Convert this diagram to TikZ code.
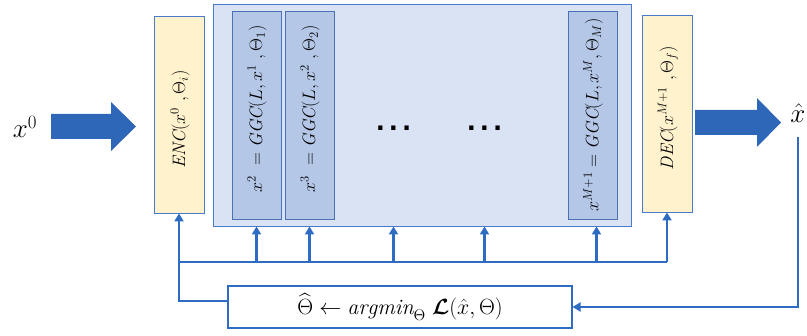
\RequirePackage{fix-cm}
\documentclass[tikz,border=0pt]{standalone}
\usepackage{amsmath}
\usepackage{bm}
\usepackage{fontspec}
\newfontfamily\dotsfont{DejaVu Sans}
\usetikzlibrary{arrows.meta}
\definecolor{arrowblue}{HTML}{2E66B8}
\definecolor{linkblue}{HTML}{2E6CC4}
\definecolor{boxedge}{HTML}{4A7BCB}
\definecolor{ggcedge}{HTML}{4A70B5}
\definecolor{outerfill}{HTML}{DAE3F3}
\definecolor{ggcfill}{HTML}{B4C7E7}
\definecolor{encfill}{HTML}{FFF2CC}
\tikzset{
  codebox/.style={draw=boxedge, line width=0.9pt, fill=encfill, inner sep=0pt},
  outerbox/.style={draw=boxedge, line width=0.9pt, fill=outerfill, inner sep=0pt},
  ggcbox/.style={draw=ggcedge, line width=0.9pt, fill=ggcfill, inner sep=0pt},
  lossbox/.style={draw=linkblue, line width=1.1pt, fill=white, inner sep=0pt},
  vlabel/.style={rotate=90, inner sep=0pt, font=\fontsize{18}{20}\selectfont},
  conn/.style={draw=linkblue, line width=2.6pt, -{Triangle[width=9pt,length=8pt]}},
  plain/.style={draw=linkblue, line width=2.6pt},
  bigarrow/.style={fill=arrowblue, draw=none},
  dots/.style={font=\fontsize{24}{26}\dotsfont\bfseries, inner sep=0pt, anchor=base},
  mathlbl/.style={font=\fontsize{27}{30}\selectfont, inner sep=0pt}
}
\begin{document}
\begin{tikzpicture}[x=1pt,y=-1pt]
\useasboundingbox (0,0) rectangle (807,336);
% boxes
\node[outerbox, minimum width=418pt, minimum height=222pt] (outer) at (422,115) {};
\node[codebox, minimum width=50pt, minimum height=197pt] (enc) at (179,114.5) {};
\node[ggcbox, minimum width=49pt, minimum height=208pt] (g1) at (256.5,115) {};
\node[ggcbox, minimum width=49pt, minimum height=208pt] (g2) at (309.5,115) {};
\node[ggcbox, minimum width=49pt, minimum height=208pt] (gm) at (592.5,115) {};
\node[codebox, minimum width=50pt, minimum height=197pt] (dec) at (667,113.5) {};
\node[lossbox, minimum width=344pt, minimum height=42pt, font=\fontsize{22}{25}\selectfont] (loss) at (400,307)
  {$\widehat{\Theta}\leftarrow \mathit{argmin}_{\Theta}\; \bm{\mathcal{L}}(\hat{x},\Theta)$};
% labels
\node[vlabel] (encl) at (180,119) {$\mathit{ENC}(x^{0}\ ,\Theta_{i})$};
\node[vlabel] (g1l) at (257,109) {$x^{2}\ = \mathit{GGC}(L,x^{1}\ ,\Theta_{1})$};
\node[vlabel] (g2l) at (310,109) {$x^{3}\ = \mathit{GGC}(L,x^{2}\ ,\Theta_{2})$};
\node[vlabel] (gml) at (593,115) {$x^{M+1} = \mathit{GGC}(L,x^{M},\Theta_{M})$};
\node[vlabel] (decl) at (668,108) {$\mathit{DEC}(x^{M+1}\ ,\Theta_{f})$};
\node[dots] (d1) at (393.5,131) {.\kern4pt.\kern4pt.};
\node[dots] (d2) at (484.5,131) {.\kern4pt.\kern4pt.};
% inputs / outputs
\node[mathlbl] (x0) at (25,127) {$x^{0}$};
\node[mathlbl] (xh) at (798,113) {$\hat{x}$};
\fill[bigarrow] (51,114) -- (111,114) -- (111,102) -- (136,126.5) -- (111,151) -- (111,139) -- (51,139) -- cycle;
\fill[bigarrow] (695,110) -- (757,110) -- (757,98) -- (781,122.5) -- (757,147) -- (757,135) -- (695,135) -- cycle;
% bus
\coordinate (busL) at (179,262);
\coordinate (busR) at (667,262);
\draw[plain] (busL) -- (busR);
\draw[conn] (g1 |- busL) -- (g1 |- outer.south);
\draw[conn] (g2 |- busL) -- (g2 |- outer.south);
\draw[conn] (d1 |- busL) -- (d1 |- outer.south);
\draw[conn] (d2 |- busL) -- (d2 |- outer.south);
\draw[conn] ([xshift=4pt]gm |- busL) -- ([xshift=4pt]gm |- outer.south);
\draw[conn] (busR) -- (dec.south);
\draw[conn] ([yshift=6pt]loss.west) -| (enc.south);
\coordinate (xhb) at (798,137);
\draw[conn] (xhb) |- (loss.east);
\end{tikzpicture}
\end{document}
